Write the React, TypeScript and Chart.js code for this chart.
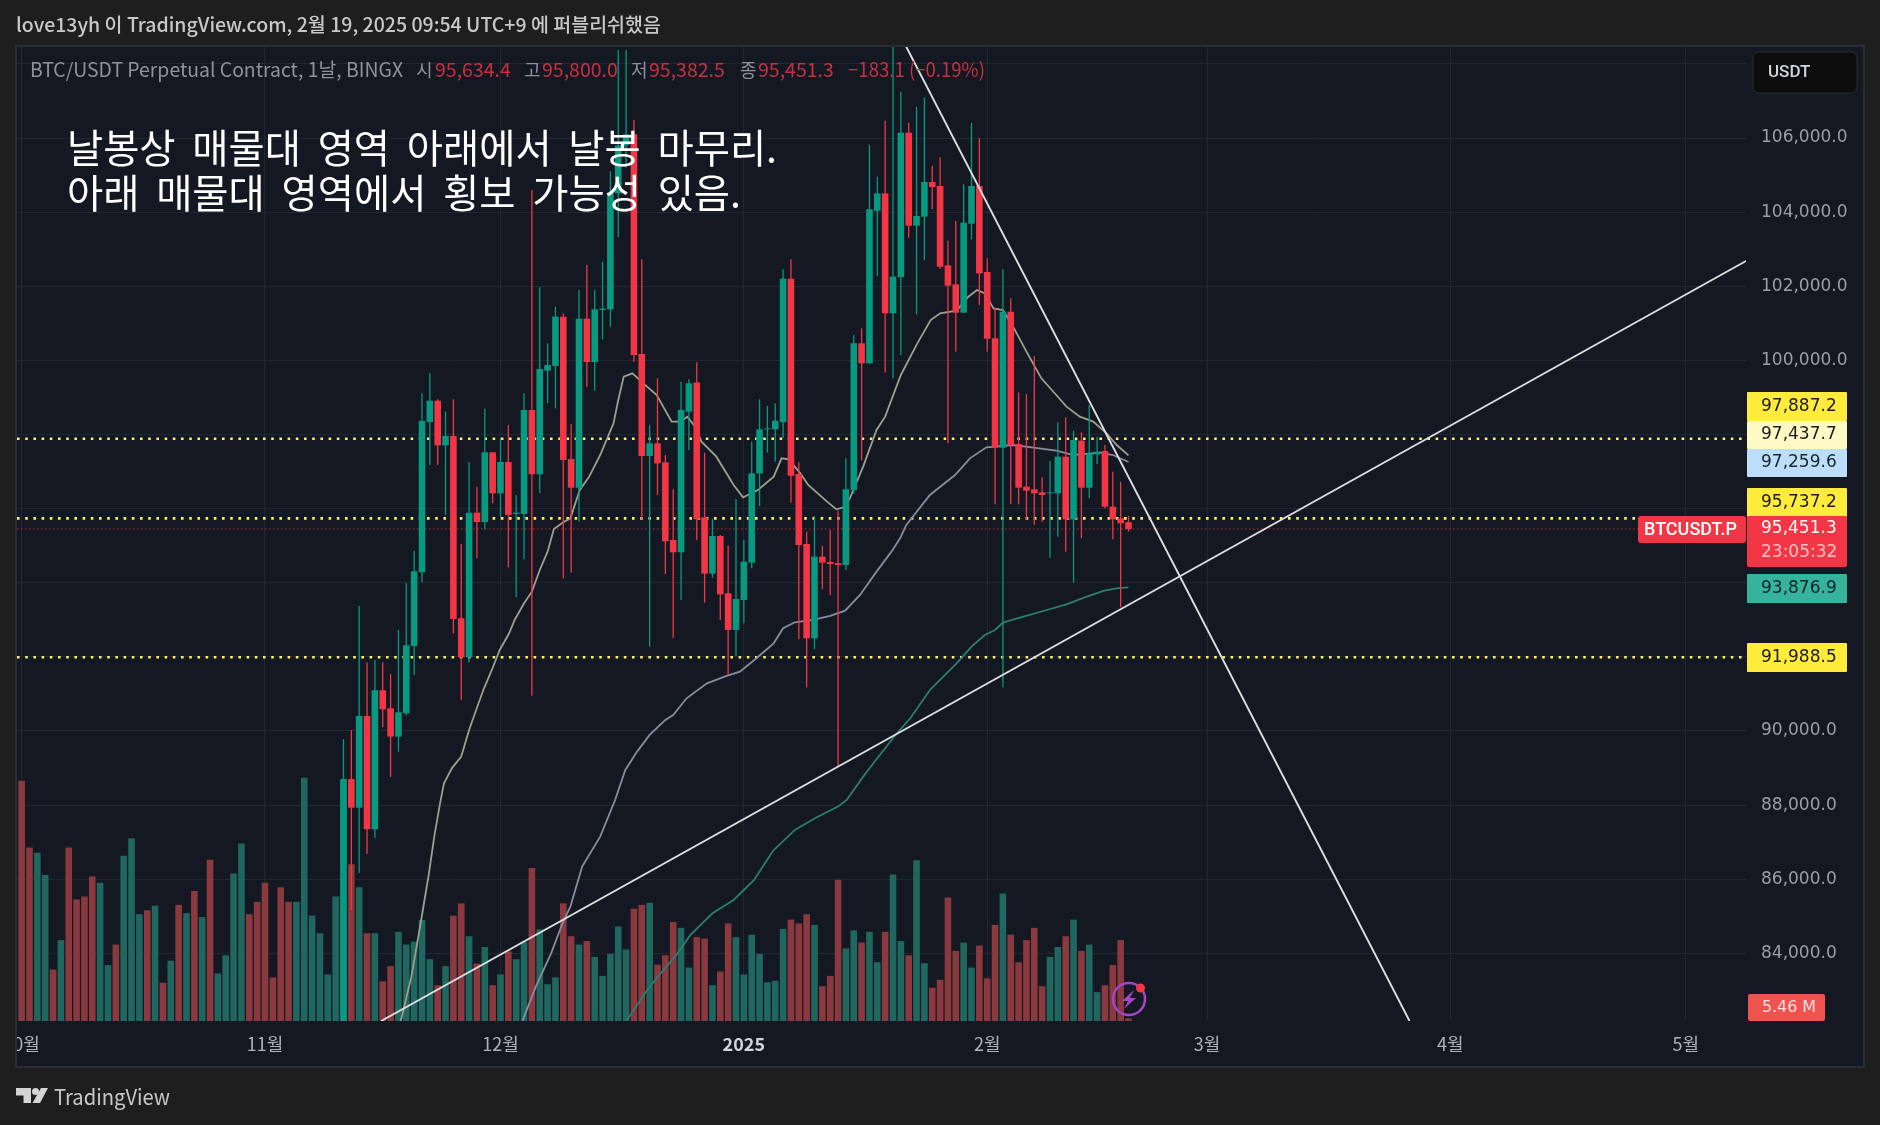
import React, { useEffect, useRef } from "react";
import { Chart, registerables } from "chart.js";

Chart.register(...registerables);

// ---------- data ----------
const monthTicks = [0, 31, 61, 92, 123, 151, 182, 212];
const monthLabels = ["10월", "11월", "12월", "2025", "2월", "3월", "4월", "5월"];
const priceTicks = [84000, 86000, 88000, 90000, 92000, 94000, 96000, 98000, 100000, 102000, 104000, 106000, 108000];
const hiddenPriceTicks = [92000, 94000, 96000, 98000, 108000];

const firstCandleDay = 41;
const opens = [80400,88704,87931,90406,87350,91098,90612,89848,90478,92294,94282,98338,98913,97708,97960,93041,91989,95891,95640,97519,96413,97258,95856,95856,98661,96926,99723,99849,101180,97339,96566,101125,99957,101360,101378,104507,105800,106100,100172,97420,97762,97249,95154,94821,98617,99400,95765,94246,95262,93715,92726,93535,94543,96952,98140,98140,98338,102205,96935,95046,92501,94704,94560,94530,94479,96503,100460,99920,104040,104507,101270,102241,106144,103635,103878,104813,104705,102564,102052,101288,103689,104705,102385,100595,97645,101315,97744,96593,96521,96440,96413,96413,97402,95712,97834,96566,97465,97555,96053,95738,95634.4];
const highs = [89785,90028,93373,91845,91917,91845,91539,92726,93985,94866,99111,99650,98949,98625,98949,95046,97258,96593,98697,97519,97897,98257,96368,99111,104597,101971,100460,101450,101270,98284,101899,102574,101899,102663,105100,108374,108374,106485,102726,98256,99516,97447,96521,99426,99500,99948,97510,95712,95289,95001,96260,95154,97807,98950,98770,98841,102457,102726,97249,95379,95801,95001,95424,95945,97357,100685,100865,105811,104957,106467,109000,107250,106414,106845,107097,105253,105478,103230,103761,104750,106414,105991,102753,101404,102457,101674,99138,99093,100118,96845,97294,98328,98463,98104,98059,98796,97942,97717,96997,96728,95800];
const lows = [80200,85171,86169,86682,87114,90100,88760,89443,90415,91512,94012,97177,97177,95828,92636,90837,91845,94668,95442,96143,95756,94417,93607,94632,90954,96413,98841,98707,94120,94273,95649,99291,99183,100568,100900,103320,105200,99966,95712,92276,96368,94237,92501,93535,97582,95154,93463,94138,92996,91512,92024,92906,94389,96071,97510,97267,97897,96161,92474,91179,92204,93823,93670,89039,94345,96400,97312,99900,102277,99669,99516,100145,103311,101243,102709,104075,102466,97762,100235,101288,103266,101494,100235,96116,91179,96125,96116,95694,95559,95649,94677,95244,94839,94003,95199,96278,97204,96008,95172,93337,95382.5];
const closes = [88704,87931,90406,87350,91098,90586,89848,90505,92312,94309,98364,98913,97708,97960,93023,91989,95891,95640,97519,96413,97258,95828,95891,98661,96926,99767,99876,101180,97312,96566,101125,99957,101378,101396,104507,105800,106100,100146,97420,97762,97222,95118,94821,98662,99381,95712,94246,95262,93688,92726,93562,94569,96952,98140,98166,98373,102205,96890,95019,92501,94704,94543,94506,94479,96521,100460,99920,104075,104507,101270,102259,106144,103635,103896,104813,104678,102528,102016,101288,103716,104705,102349,100586,97645,101315,97717,96566,96485,96413,96368,96440,97402,95712,97852,96566,97492,97537,96053,95712,95604,95451.3];

// volume in millions for every day from the first visible bar
const volumes = [490,354,343,298,105,165,354,248,254,295,282,114,156,337,373,218,226,235,78,123,237,220,265,212,329,97,134,301,362,218,243,282,89,273,243,243,496,215,179,95,254,490,320,273,179,179,81,112,182,156,162,206,126,73,112,215,240,173,117,151,73,95,142,126,162,312,187,75,89,240,173,156,163,131,92,137,193,146,229,237,241,115,134,202,190,109,171,168,73,101,199,171,95,176,137,79,82,188,207,199,218,196,71,92,288,148,185,160,182,120,182,299,163,134,328,118,68,84,252,143,160,109,154,87,196,260,176,120,165,190,71,131,151,173,207,143,156,59,73,114,165,5.46];
const earlyVolumeSides = "rrggrgrrrrggrgggrgrgrgrgrggggrrrrrrgggggg";

const shortMaDays = [48.3,49.65,50.9,51.85,52.6,53.3,53.8,54.8,56,57,58.2,58.9,59.9,60.9,62.1,62.8,64,65,66,67,67.8,69,69.9,71.1,72.3,73.7,75.4,76,76.7,77.8,79.2,80.9,82.8,83.9,84.8,85.8,86.6,88.5,90.7,91.9,93.8,95.8,96.8,97.7,99.2,100.2,102.6,103.8,104.7,105.5,107.2,108.9,110,112,114.1,115.8,117,119.1,120.6,121.7,122.7,123.8,125,126.3,128,129.9,131.8,133.1,134.8,136.5,138.2,139.5,141];
const shortMaPrices = [82177,83372,84901,86115,87195,88049,88589,88993,89309,90028,90747,91152,91647,92186,92636,92996,93445,93760,94345,94839,95451,95631,95739,96503,96863,97447,98302,98931,99561,99651,99381,99066,98347,98347,98482,98212,97807,97402,96638,96305,96503,96862,97357,97330,96953,96638,96188,95981,96035,96278,97132,98122,98482,99606,100460,101089,101269,101342,101719,101899,101809,101404,101359,100910,100235,99516,99066,98752,98482,98347,98032,97717,97437.7];
const midMaDays = [63.8,65.5,67.45,68.9,69.9,71.4,73.7,75.6,76.9,78.4,80,82,83,84.7,87.3,89.8,91.5,93.6,95.8,97,98.5,100.8,103,104.9,106.8,108.9,110.8,111.9,112.7,115.7,118.9,120.8,122.9,126.3,128.9,131.8,134,137.4,139,141];
const midMaPrices = [82177,83103,83999,84812,85261,86340,87150,88139,88949,89444,89893,90298,90433,90882,91287,91485,91602,91962,92366,92771,92933,92996,93104,93247,93670,94300,94839,95199,95559,96368,96908,97357,97654,97717,97645,97564,97447,97510,97447,97259.6];
const longMaDays = [77,79.4,81.4,83.4,85.2,88,90.7,93.3,95.7,98.5,101,104.1,105.1,107.2,108.5,111.5,113.2,115.7,119.1,121,122.7,124,125,127.6,130.6,133.1,135.7,137.9,139.5,141];
const longMaPrices = [82167,82923,83462,83957,84497,85081,85441,85980,86763,87330,87640,87977,88139,88769,89129,89938,90343,91107,91826,92276,92591,92726,92924,93086,93265,93418,93625,93787,93850,93876.9];

const fallingLineDays = [112.4, 176.8];
const fallingLinePrices = [108580, 82175];
const risingLineDays = [45.8, 219.66];
const risingLinePrices = [82175, 102681];

const yellowLevels = [97887.2, 95737.2, 91988.5];
const lastPrice = 95451.3;

const headerText = "love13yh 이 TradingView.com, 2월 19, 2025 09:54 UTC+9 에 퍼블리쉬했음";
const legendName = "BTC/USDT Perpetual Contract, 1날, BINGX";
const legendFields = ["시", "고", "저", "종"];
const legendValues = ["95,634.4", "95,800.0", "95,382.5", "95,451.3"];
const legendChange = "−183.1 (−0.19%)";
const noteLines = ["날봉상 매물대 영역 아래에서 날봉 마무리.", "아래 매물대 영역에서 횡보 가능성 있음."];

// ---------- styles ----------
const GREEN = "#089981";
const RED = "#f23645";
const VOL_GREEN = "#1f675f";
const VOL_RED = "#8a393f";
const OUTER = "#1e1e1e";
const PANE = "#141823";
const GRID = "#232732";
const FRAME = "#2a2d36";
const PRICE_FONT = '"DejaVu Sans"';
const KR_FONT = '"Noto Sans CJK KR"';

const candleSide = (i: number) => closes[i] >= opens[i];
const candleColors = opens.map((_, i) => (candleSide(i) ? GREEN : RED));
const volumeColors = volumes.map((_, d) => {
  const up = d < firstCandleDay ? earlyVolumeSides[d] === "g" : candleSide(d - firstCandleDay);
  return up ? VOL_GREEN : VOL_RED;
});
const points = (xs: number[], ys: number[]) => xs.map((x, i) => ({ x, y: ys[i] }));

function tag(ctx: CanvasRenderingContext2D, x: number, y: number, w: number, h: number, fill: string, r = 2) {
  ctx.fillStyle = fill;
  ctx.beginPath();
  ctx.roundRect(x, y, w, h, r);
  ctx.fill();
}
function text(ctx: CanvasRenderingContext2D, s: string, x: number, y: number, font: string, color: string, maxWidth?: number) {
  ctx.font = font;
  ctx.fillStyle = color;
  ctx.textBaseline = "middle";
  ctx.textAlign = "left";
  if (maxWidth) ctx.fillText(s, x, y, maxWidth);
  else ctx.fillText(s, x, y);
}

const paneBackground = {
  id: "paneBackground",
  beforeDraw(chart: any) {
    const ctx = chart.ctx;
    ctx.save();
    ctx.fillStyle = OUTER;
    ctx.fillRect(0, 0, chart.width, chart.height);
    ctx.fillStyle = PANE;
    ctx.fillRect(17, 47, 1846, 1019);
    ctx.restore();
  },
};

const overlay = {
  id: "overlay",
  afterDraw(chart: any) {
    const ctx: CanvasRenderingContext2D = chart.ctx;
    ctx.save();
    // frame over the clipped first month label
    ctx.fillStyle = OUTER;
    ctx.fillRect(0, 47, 15, 1030);
    ctx.strokeStyle = FRAME;
    ctx.lineWidth = 2;
    ctx.strokeRect(16, 46, 1848, 1021);

    // header, legend, note
    text(ctx, headerText, 16, 25, `500 19.5px ${KR_FONT}`, "#c8c8c8", 647);
    text(ctx, legendName, 30, 70, `400 19.4px ${KR_FONT}`, "#8f929b", 373);
    const fieldX = [416, 524, 631, 740];
    const valueX = [435, 542, 649, 758];
    legendFields.forEach((f, i) => {
      text(ctx, f, fieldX[i], 70, `400 18px ${KR_FONT}`, "#8f929b");
      text(ctx, legendValues[i], valueX[i], 70, `400 19.5px ${KR_FONT}`, "#c8303f", 77);
    });
    text(ctx, legendChange, 848, 70, `400 19.5px ${KR_FONT}`, "#c8303f", 137);

    (ctx as any).wordSpacing = "8px";
    text(ctx, noteLines[0], 67, 148, `400 39.5px ${KR_FONT}`, "#ffffff", 710);
    text(ctx, noteLines[1], 67, 193, `400 39.5px ${KR_FONT}`, "#ffffff", 674);
    (ctx as any).wordSpacing = "0px";

    // currency box
    tag(ctx, 1753, 52, 104, 41, "#0c0c0d", 6);
    ctx.strokeStyle = "#2a2d36";
    ctx.lineWidth = 1;
    ctx.stroke();
    text(ctx, "USDT", 1768, 73, `500 17px Roboto`, "#d1d4dc", 44);

    // price tags
    const rows: [string, number, number, string, string][] = [
      ["97,887.2", 392, 29, "#ffeb3b", "#1a1c22"],
      ["97,437.7", 421, 28, "#fff9c4", "#1a1c22"],
      ["97,259.6", 449, 28, "#bbdefb", "#1a2430"],
      ["95,737.2", 488, 29, "#ffeb3b", "#1a1c22"],
      ["93,876.9", 574, 29, "#36b39c", "#10252a"],
      ["91,988.5", 643, 29, "#ffeb3b", "#1a1c22"],
    ];
    rows.forEach(([s, y, h, bg, fg]) => {
      tag(ctx, 1747, y, 100, h, bg, 1);
      text(ctx, s, 1761, y + h / 2, `17px ${PRICE_FONT}`, fg, 77);
    });
    tag(ctx, 1747, 516, 100, 51, RED, 2);
    text(ctx, "95,451.3", 1761, 529, `17px ${PRICE_FONT}`, "#ffffff", 77);
    text(ctx, "23:05:32", 1761, 553, `17px ${PRICE_FONT}`, "#ffc0c6", 77);
    tag(ctx, 1638, 516, 108, 27, RED, 3);
    text(ctx, "BTCUSDT.P", 1644, 530, `500 18px Roboto`, "#ffffff", 95);
    tag(ctx, 1748, 994, 77, 27, "#ef5350", 2);
    text(ctx, "5.46 M", 1762, 1008, `16px ${PRICE_FONT}`, "#ffe0e0", 54);

    // alert icon
    ctx.strokeStyle = "#a345c4";
    ctx.lineWidth = 2.5;
    ctx.beginPath();
    ctx.arc(1129, 999, 16, 0, Math.PI * 2);
    ctx.stroke();
    ctx.fillStyle = "#a345c4";
    ctx.beginPath();
    ctx.moveTo(1134, 990);
    ctx.lineTo(1122, 1001);
    ctx.lineTo(1128, 1001);
    ctx.lineTo(1124, 1009);
    ctx.lineTo(1136, 998);
    ctx.lineTo(1130, 998);
    ctx.closePath();
    ctx.fill();
    ctx.fillStyle = RED;
    ctx.beginPath();
    ctx.arc(1140.5, 988, 4.5, 0, Math.PI * 2);
    ctx.fill();

    // logo
    ctx.fillStyle = "#d4d4d4";
    ctx.beginPath();
    ctx.moveTo(16, 1088);
    ctx.lineTo(31, 1088);
    ctx.lineTo(31, 1103);
    ctx.lineTo(23.5, 1103);
    ctx.lineTo(23.5, 1095.5);
    ctx.lineTo(16, 1095.5);
    ctx.closePath();
    ctx.fill();
    ctx.beginPath();
    ctx.arc(35.5, 1091.5, 3.5, 0, Math.PI * 2);
    ctx.fill();
    ctx.beginPath();
    ctx.moveTo(41, 1088);
    ctx.lineTo(48, 1088);
    ctx.lineTo(40, 1103);
    ctx.lineTo(32.5, 1103);
    ctx.closePath();
    ctx.fill();
    text(ctx, "TradingView", 54, 1097, `400 21px ${KR_FONT}`, "#c8c8c8", 116);
    ctx.restore();
  },
};

export default function App() {
  const ref = useRef<HTMLCanvasElement>(null);
  useEffect(() => {
    document.body.style.margin = "0";
    document.body.style.background = OUTER;
    const candleDays = opens.map((_, i) => firstCandleDay + i);
    const flat = (y: number, endDay: number) => [{ x: -0.59, y }, { x: endDay, y }];
    const datasets: any[] = [
      {
        type: "bar",
        label: "Volume",
        yAxisID: "yVol",
        data: volumes.map((v, d) => ({ x: d, y: v })),
        backgroundColor: volumeColors,
        barThickness: 6.6,
        grouped: false,
        inflateAmount: 0,
        order: 20,
      },
      ...yellowLevels.map((lv) => ({
        type: "line",
        label: "Level " + lv,
        data: flat(lv, 219.15),
        borderColor: "#fbf16b",
        borderWidth: 2.6,
        borderDash: [2.6, 5.6],
        pointRadius: 0,
        order: 15,
      })),
      {
        type: "line",
        label: "Last price",
        data: flat(lastPrice, 205.9),
        borderColor: "rgba(242,54,69,0.75)",
        borderWidth: 1,
        borderDash: [1.5, 2.5],
        pointRadius: 0,
        order: 15,
      },
      { type: "line", label: "MA short", data: points(shortMaDays, shortMaPrices), borderColor: "#9e9f8d", borderWidth: 1.8, pointRadius: 0, order: 10 },
      { type: "line", label: "MA mid", data: points(midMaDays, midMaPrices), borderColor: "#858d9f", borderWidth: 1.8, pointRadius: 0, order: 10 },
      { type: "line", label: "MA long", data: points(longMaDays, longMaPrices), borderColor: "#2e7d6d", borderWidth: 1.8, pointRadius: 0, order: 10 },
      {
        type: "bar",
        label: "Wick",
        data: candleDays.map((d, i) => ({ x: d, y: [lows[i], highs[i]] })),
        backgroundColor: candleColors,
        barThickness: 1.3,
        grouped: false,
        inflateAmount: 0,
        order: 6,
      },
      {
        type: "bar",
        label: "Body",
        data: candleDays.map((d, i) => ({ x: d, y: [opens[i], closes[i]] })),
        backgroundColor: candleColors,
        barThickness: 6.6,
        grouped: false,
        inflateAmount: 0,
        order: 5,
      },
      { type: "line", label: "Falling trend", data: points(fallingLineDays, fallingLinePrices), borderColor: "#dedee0", borderWidth: 1.9, pointRadius: 0, order: 1 },
      { type: "line", label: "Rising trend", data: points(risingLineDays, risingLinePrices), borderColor: "#dedee0", borderWidth: 1.9, pointRadius: 0, order: 1 },
    ];
    const chart = new Chart(ref.current!, {
      type: "bar",
      data: { datasets },
      plugins: [paneBackground, overlay],
      options: {
        responsive: false,
        animation: false,
        devicePixelRatio: 1,
        layout: { autoPadding: false, padding: { left: 17, top: 47, right: 17, bottom: 59 } },
        plugins: { legend: { display: false }, tooltip: { enabled: false }, title: { display: false } },
        scales: {
          x: {
            type: "linear",
            offset: false,
            min: -0.59,
            max: 219.66,
            afterBuildTicks: (s: any) => { s.ticks = monthTicks.map((value) => ({ value })); },
            afterFit: (s: any) => { s.height = 45; s.paddingLeft = 0; s.paddingRight = 0; },
            border: { display: false },
            grid: { color: GRID, drawTicks: false, lineWidth: 1, offset: false },
            ticks: {
              autoSkip: false,
              maxRotation: 0,
              padding: 12,
              color: (c: any) => (c.tick && c.tick.value === 92 ? "#d1d4dc" : "#aeb1ba"),
              font: (c: any) => ({ family: KR_FONT, size: 18, weight: c.tick && c.tick.value === 92 ? "700" : "400" }),
              callback: (v: any) => monthLabels[monthTicks.indexOf(v)],
            },
          },
          y: {
            type: "linear",
            position: "right",
            min: 82175,
            max: 108456,
            afterBuildTicks: (s: any) => { s.ticks = priceTicks.map((value) => ({ value })); },
            afterFit: (s: any) => { s.width = 117; s.paddingTop = 0; s.paddingBottom = 0; },
            border: { display: false },
            grid: { color: GRID, drawTicks: false, lineWidth: 1 },
            ticks: {
              autoSkip: false,
              padding: 15,
              color: "#9b9ea7",
              font: { family: "DejaVu Sans", size: 17 },
              callback: (v: any) =>
                hiddenPriceTicks.includes(v) ? "" : Number(v).toLocaleString("en-US", { minimumFractionDigits: 1 }),
            },
          },
          yVol: { type: "linear", display: false, min: 0, max: 1987, position: "left" },
        },
      } as any,
    });
    return () => chart.destroy();
  }, []);
  return (
    <div style={{ position: "absolute", left: 0, top: 0, width: 1880, height: 1125, background: OUTER }}>
      <canvas ref={ref} width={1880} height={1125} style={{ display: "block", width: 1880, height: 1125 }} />
    </div>
  );
}
